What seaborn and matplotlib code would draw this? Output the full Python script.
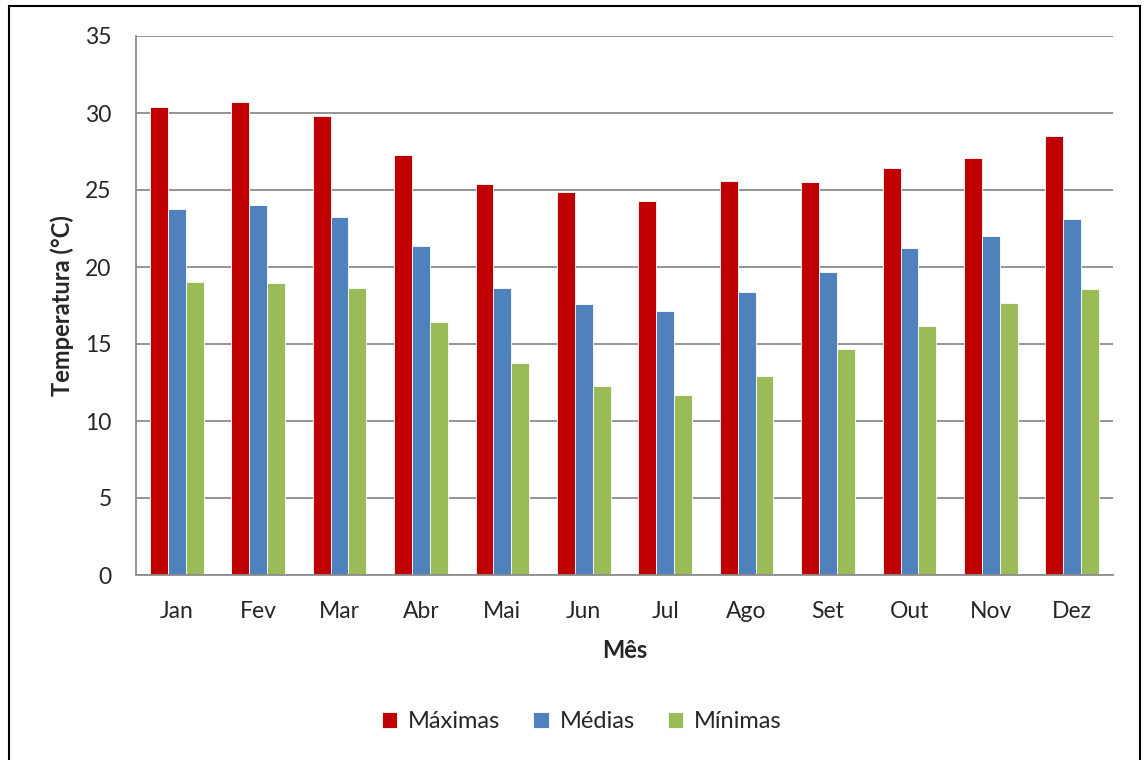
import pandas as pd
import seaborn as sns
import matplotlib.pyplot as plt
from matplotlib.patches import Rectangle

sns.set_style("white")
plt.rcParams['font.family'] = ['Lato', 'DejaVu Sans']

meses = ['Jan', 'Fev', 'Mar', 'Abr', 'Mai', 'Jun', 'Jul', 'Ago', 'Set', 'Out', 'Nov', 'Dez']
maximas = [30.4, 30.7, 29.8, 27.3, 25.4, 24.85, 24.3, 25.6, 25.5, 26.4, 27.05, 28.5]
medias = [23.75, 24.0, 23.25, 21.35, 18.65, 17.6, 17.15, 18.35, 19.65, 21.25, 22.0, 23.1]
minimas = [19.0, 18.95, 18.65, 16.45, 13.75, 12.3, 11.7, 12.9, 14.7, 16.2, 17.65, 18.55]
series = ['Máximas', 'Médias', 'Mínimas']
cores = ['#C00000', '#4F81BD', '#9BBB59']

df = pd.DataFrame({'mes': meses * 3,
                   'valor': maximas + medias + minimas,
                   'serie': [s for s in series for _ in meses]})

fig = plt.figure(figsize=(11.45, 7.6), dpi=100)
ax = fig.add_axes([136 / 1145, 1 - 575 / 760, (1113 - 136) / 1145, (575 - 36) / 760])

sns.barplot(data=df, x='mes', y='valor', hue='serie', palette=cores, width=0.66,
            edgecolor='white', linewidth=0.6, saturation=1, ax=ax)

ax.set_ylim(0, 35)
ax.set_yticks(range(0, 36, 5))
ax.set_xlim(-0.5, 11.5)
ax.yaxis.grid(True, color='#8c8c8c', linewidth=1.3)
ax.set_axisbelow(True)
for s in ['top', 'right']:
    ax.spines[s].set_visible(False)
for s in ['left', 'bottom']:
    ax.spines[s].set_color('#8c8c8c')
    ax.spines[s].set_linewidth(1.3)
ax.tick_params(axis='y', length=6.5, color='#8c8c8c', width=1.3, pad=11, labelsize=16.5)
ax.tick_params(axis='x', length=0, pad=19, labelsize=16.5)
ax.set_xlabel('Mês', fontsize=17, fontweight='bold', labelpad=12)
ax.set_ylabel('Temperatura (°C)', fontsize=17, fontweight='bold', labelpad=8)

ax.legend(loc='center', bbox_to_anchor=(0.508, 0.05), bbox_transform=fig.transFigure,
          ncol=3, frameon=False, fontsize=17, handlelength=0.65, handleheight=0.65,
          handletextpad=0.45, columnspacing=1.4)

fig.patches.append(Rectangle((9 / 1145, -0.01), 1131 / 1145, 1 - 6 / 760 + 0.01,
                             transform=fig.transFigure, fill=False,
                             edgecolor='black', linewidth=1.5))

fig.savefig('out.png', dpi=100)
